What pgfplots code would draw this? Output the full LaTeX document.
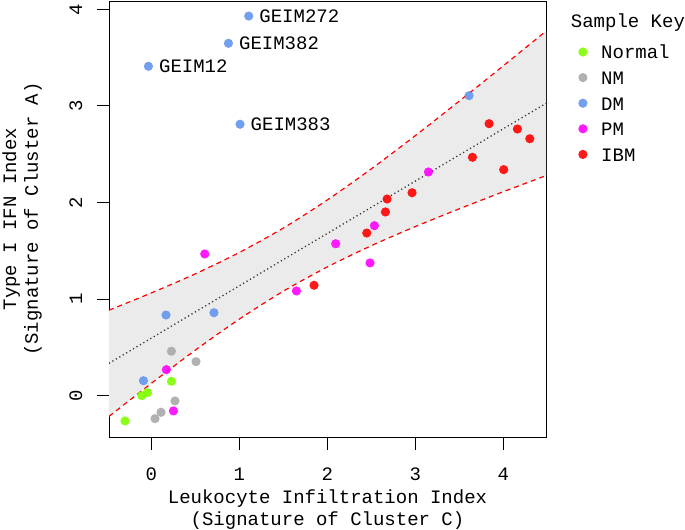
\documentclass[border=0pt]{standalone}
\usepackage{fontspec}
\setmainfont{Liberation Mono}
\usepackage{pgfplots}
\pgfplotsset{compat=1.18}
\usepgfplotslibrary{fillbetween}
\definecolor{cNormal}{HTML}{7FFF00}
\definecolor{cNM}{HTML}{A9A9A9}
\definecolor{cDM}{HTML}{6495ED}
\definecolor{cPM}{HTML}{FF00FF}
\definecolor{cIBM}{HTML}{FF0000}
\definecolor{band}{HTML}{EBEBEB}
\begin{document}
\fontsize{19}{21.7}\selectfont
\begin{tikzpicture}
\begin{axis}[
  name=ax, at={(0pt,0pt)}, anchor=south west,
  scale only axis, width=437pt, height=436pt,
  xmin=-0.482, xmax=4.484, ymin=-0.428, ymax=4.086,
  xtick={0,1,2,3,4}, ytick={0,1,2,3,4},
  xtick pos=bottom, ytick pos=left,
  tick align=outside, major tick length=12.5pt,
  every tick/.style={black, line width=0.8pt},
  axis line style={line width=0.8pt},
  /pgf/number format/assume math mode=true,
  xticklabel style={anchor=north, inner sep=0pt},
  xticklabel shift=18.2pt,
  yticklabel style={rotate=90, anchor=south, inner sep=0pt},
  yticklabel shift=14.1pt,
  xlabel={Leukocyte Infiltration Index\\(Signature of Cluster C)},
  xlabel style={at={(axis description cs:0.5,-0.1216)}, anchor=north, inner sep=0pt, align=center},
  ylabel={Type I IFN Index\\(Signature of Cluster A)},
  ylabel style={at={(axis description cs:-0.1533,0.5)}, anchor=south, inner sep=0pt, align=center},
  legend style={draw=none, fill=none, at={(axis description cs:1,1)}, anchor=north west,
    xshift=32.1pt, yshift=-44pt, inner sep=0pt, row sep=12pt,
    nodes={inner sep=0pt, text height=13.6pt, text depth=0pt},
    /tikz/every odd column/.append style={column sep=13.7pt}},
  legend cell align=left,
]
% confidence band
\addplot[draw=none, name path=up, smooth, forget plot] coordinates {
(-0.482,0.885) (0,1.064) (0.5,1.262) (1,1.483) (1.5,1.736) (2,2.027) (2.5,2.349) (3,2.693) (3.5,3.051) (4,3.416) (4.484,3.774)};
\addplot[draw=none, name path=lo, smooth, forget plot] coordinates {
(-0.482,-0.215) (0,0.128) (0.5,0.472) (1,0.793) (1.5,1.082) (2,1.333) (2.5,1.553) (3,1.751) (3.5,1.935) (4,2.112) (4.484,2.278)};
\addplot[band, draw=none, forget plot] fill between[of=up and lo];
\addplot[red, line width=1.2pt, dash pattern=on 5pt off 4pt, smooth, forget plot] coordinates {
(-0.482,0.885) (0,1.064) (0.5,1.262) (1,1.483) (1.5,1.736) (2,2.027) (2.5,2.349) (3,2.693) (3.5,3.051) (4,3.416) (4.484,3.774)};
\addplot[red, line width=1.2pt, dash pattern=on 5pt off 4pt, smooth, forget plot] coordinates {
(-0.482,-0.215) (0,0.128) (0.5,0.472) (1,0.793) (1.5,1.082) (2,1.333) (2.5,1.553) (3,1.751) (3.5,1.935) (4,2.112) (4.484,2.278)};
% regression line
\addplot[black!80, line width=1.3pt, dash pattern=on 1.2pt off 2.8pt, forget plot] coordinates {(-0.482,0.335) (4.484,3.026)};
% labelled DM samples
\addplot[only marks, mark=*, mark size=4.6pt, color=cDM, mark options={draw opacity=0, fill opacity=0.9},
  nodes near coords, point meta=explicit symbolic,
  nodes near coords style={anchor=west, inner sep=0pt, xshift=10.5pt, black, opacity=1}, forget plot] coordinates {
(1.106,3.93)[GEIM272] (0.875,3.648)[GEIM382] (-0.034,3.41)[GEIM12] (1.007,2.81)[GEIM383]};
% Normal
\addplot[only marks, mark=*, mark size=4.6pt, color=cNormal, mark options={draw opacity=0, fill opacity=0.9}] coordinates {
(0.227,0.149) (-0.045,0.031) (-0.11,0.0) (-0.30,-0.262)};
\addlegendentry{Normal}
% NM
\addplot[only marks, mark=*, mark size=4.6pt, color=cNM, mark options={draw opacity=0, fill opacity=0.9}] coordinates {
(0.227,0.46) (0.507,0.352) (0.268,-0.055) (0.109,-0.172) (0.041,-0.238)};
\addlegendentry{NM}
% DM
\addplot[only marks, mark=*, mark size=4.6pt, color=cDM, mark options={draw opacity=0, fill opacity=0.9}] coordinates {
(3.61,3.106) (0.166,0.835) (0.711,0.859) (-0.09,0.155)};
\addlegendentry{DM}
% PM
\addplot[only marks, mark=*, mark size=4.6pt, color=cPM, mark options={draw opacity=0, fill opacity=0.9}] coordinates {
(0.17,0.269) (0.25,-0.158) (1.648,1.084) (0.606,1.467) (2.094,1.573) (2.484,1.374) (2.534,1.76) (3.148,2.316)};
\addlegendentry{PM}
% IBM
\addplot[only marks, mark=*, mark size=4.6pt, color=cIBM, mark options={draw opacity=0, fill opacity=0.9}] coordinates {
(1.848,1.143) (2.447,1.684) (2.659,1.902) (2.678,2.036) (2.962,2.101) (3.648,2.468) (3.837,2.816) (4.003,2.34) (4.159,2.761) (4.30,2.66)};
\addlegendentry{IBM}
\end{axis}
\node[anchor=base west, inner sep=0pt] at ([xshift=24.7pt, yshift=-26.8pt]ax.north east) {Sample Key};
\path[use as bounding box] (-109pt,-92pt) rectangle (576pt,437pt);
\end{tikzpicture}
\end{document}
